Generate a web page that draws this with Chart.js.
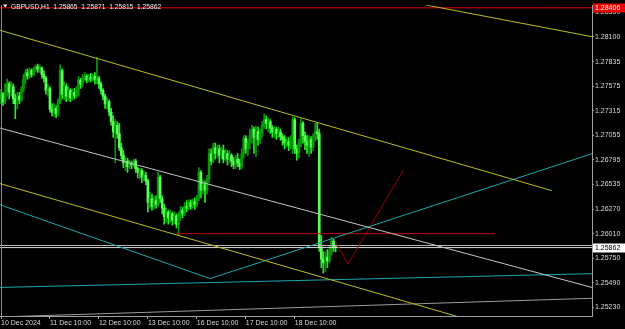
<!DOCTYPE html>
<html lang="en">
<head>
<meta charset="UTF-8">
<title>GBPUSD,H1</title>
<script src="https://cdn.jsdelivr.net/npm/chart.js"></script>
<style>
    html, body { margin: 0; padding: 0; background: #000000; }
    #wrap { width: 625px; height: 329px; }
</style>
</head>
<body>
<div id="wrap"><canvas id="grafik" width="625" height="329"></canvas></div>
<script>
// GBPUSD H1, one entry per hour starting 10 Dec 10:00
const opens = [1.2744,1.2749,1.2741,1.2751,1.2760,1.2751,1.2757,1.2744,1.2739,1.2747,
    1.2743,1.2754,1.2765,1.2772,1.2768,1.2774,1.2770,1.2776,1.2778,1.2775,
    1.2777,1.2770,1.2766,1.2753,1.2755,1.2733,1.2730,1.2734,1.2728,1.2741,
    1.2774,1.2749,1.2757,1.2747,1.2753,1.2745,1.2751,1.2747,1.2753,1.2764,
    1.2760,1.2766,1.2768,1.2764,1.2767,1.2765,1.2768,1.2764,1.2766,1.2760,
    1.2753,1.2747,1.2739,1.2741,1.2730,1.2720,1.2709,1.2716,1.2707,1.2692,
    1.2684,1.2676,1.2678,1.2672,1.2676,1.2674,1.2678,1.2670,1.2666,1.2668,
    1.2661,1.2663,1.2657,1.2634,1.2638,1.2630,1.2636,1.2632,1.2661,1.2638,
    1.2628,1.2619,1.2624,1.2618,1.2622,1.2615,1.2620,1.2611,1.2620,1.2626,
    1.2622,1.2630,1.2628,1.2634,1.2630,1.2635,1.2632,1.2638,1.2666,1.2647,
    1.2653,1.2647,1.2659,1.2686,1.2678,1.2692,1.2686,1.2691,1.2684,1.2689,
    1.2680,1.2686,1.2680,1.2684,1.2678,1.2674,1.2680,1.2676,1.2672,1.2686,
    1.2702,1.2691,1.2697,1.2705,1.2712,1.2703,1.2709,1.2701,1.2707,1.2716,
    1.2722,1.2718,1.2720,1.2713,1.2709,1.2712,1.2707,1.2709,1.2704,1.2701,
    1.2697,1.2699,1.2695,1.2699,1.2722,1.2691,1.2686,1.2697,1.2718,1.2705,
    1.2699,1.2695,1.2701,1.2693,1.2703,1.2709,1.2707,1.2587,1.2574,1.2570,
    1.2576,1.2572,1.2582,1.2593,1.25865];
const highs = [1.2754,1.2751,1.2760,1.2765,1.2762,1.2762,1.2760,1.2749,1.2751,1.2751,
    1.2757,1.2770,1.2775,1.2776,1.2777,1.2776,1.2778,1.2780,1.2781,1.2780,
    1.2778,1.2774,1.2768,1.2760,1.2757,1.2739,1.2739,1.2737,1.2744,1.2780,
    1.2776,1.2762,1.2760,1.2757,1.2755,1.2754,1.2755,1.2757,1.2768,1.2766,
    1.2770,1.2772,1.2770,1.2770,1.2771,1.2770,1.2772,1.2788,1.2768,1.2762,
    1.2755,1.2749,1.2745,1.2743,1.2734,1.2726,1.2722,1.2720,1.2718,1.2697,
    1.2689,1.2682,1.2681,1.2679,1.2678,1.2680,1.2680,1.2672,1.2670,1.2670,
    1.2668,1.2666,1.2659,1.2645,1.2643,1.2641,1.2641,1.2666,1.2663,1.2641,
    1.2632,1.2628,1.2626,1.2626,1.2624,1.2624,1.2622,1.2624,1.2630,1.2629,
    1.2634,1.2636,1.2637,1.2637,1.2638,1.2639,1.2642,1.2671,1.2668,1.2658,
    1.2657,1.2663,1.2691,1.2691,1.2697,1.2697,1.2695,1.2695,1.2693,1.2695,
    1.2691,1.2689,1.2689,1.2686,1.2682,1.2684,1.2686,1.2680,1.2691,1.2705,
    1.2705,1.2701,1.2712,1.2716,1.2714,1.2715,1.2714,1.2712,1.2720,1.2728,
    1.2726,1.2724,1.2722,1.2716,1.2714,1.2714,1.2714,1.2712,1.2707,1.2705,
    1.2703,1.2703,1.2705,1.2725,1.2724,1.2695,1.2701,1.2723,1.2720,1.2709,
    1.2705,1.2705,1.2704,1.2707,1.2718,1.2718,1.2712,1.2599,1.2582,1.2582,
    1.2584,1.2588,1.2597,1.2595,1.25871];
const lows = [1.2739,1.2737,1.2739,1.2747,1.2744,1.2747,1.2739,1.2723,1.2733,1.2739,
    1.2741,1.2751,1.2760,1.2765,1.2766,1.2767,1.2768,1.2773,1.2772,1.2772,
    1.2766,1.2762,1.2749,1.2747,1.2730,1.2726,1.2725,1.2724,1.2726,1.2739,
    1.2744,1.2743,1.2741,1.2742,1.2741,1.2743,1.2744,1.2745,1.2747,1.2755,
    1.2757,1.2763,1.2761,1.2762,1.2762,1.2763,1.2760,1.2760,1.2755,1.2749,
    1.2743,1.2734,1.2733,1.2726,1.2716,1.2703,1.2676,1.2702,1.2689,1.2680,
    1.2671,1.2668,1.2666,1.2670,1.2670,1.2672,1.2666,1.2660,1.2659,1.2655,
    1.2657,1.2653,1.2624,1.2628,1.2626,1.2627,1.2628,1.2630,1.2634,1.2622,
    1.2611,1.2613,1.2611,1.2613,1.2610,1.2611,1.2607,1.2600,1.2615,1.2618,
    1.2620,1.2624,1.2626,1.2627,1.2628,1.2627,1.2630,1.2636,1.2639,1.2643,
    1.2634,1.2643,1.2655,1.2674,1.2676,1.2680,1.2681,1.2676,1.2680,1.2676,
    1.2678,1.2674,1.2676,1.2672,1.2670,1.2670,1.2672,1.2669,1.2670,1.2681,
    1.2686,1.2684,1.2691,1.2697,1.2686,1.2683,1.2695,1.2697,1.2703,1.2713,
    1.2712,1.2709,1.2707,1.2703,1.2703,1.2701,1.2703,1.2700,1.2695,1.2691,
    1.2693,1.2689,1.2691,1.2686,1.2686,1.2679,1.2681,1.2693,1.2697,1.2690,
    1.2686,1.2683,1.2686,1.2689,1.2699,1.2701,1.2582,1.2565,1.2559,1.2561,
    1.2565,1.2570,1.2578,1.2582,1.25815];
const closes = [1.2749,1.2741,1.2751,1.2760,1.2751,1.2757,1.2744,1.2739,1.2747,1.2743,
    1.2754,1.2765,1.2772,1.2768,1.2774,1.2770,1.2776,1.2778,1.2775,1.2777,
    1.2770,1.2766,1.2753,1.2755,1.2733,1.2730,1.2734,1.2728,1.2741,1.2774,
    1.2749,1.2757,1.2747,1.2753,1.2745,1.2751,1.2747,1.2753,1.2764,1.2760,
    1.2766,1.2768,1.2764,1.2767,1.2765,1.2768,1.2764,1.2766,1.2760,1.2753,
    1.2747,1.2739,1.2741,1.2730,1.2720,1.2709,1.2716,1.2707,1.2692,1.2684,
    1.2676,1.2678,1.2672,1.2676,1.2674,1.2678,1.2670,1.2666,1.2668,1.2661,
    1.2663,1.2657,1.2634,1.2638,1.2630,1.2636,1.2632,1.2661,1.2638,1.2628,
    1.2619,1.2624,1.2618,1.2622,1.2615,1.2620,1.2611,1.2620,1.2626,1.2622,
    1.2630,1.2628,1.2634,1.2630,1.2635,1.2632,1.2638,1.2666,1.2647,1.2653,
    1.2647,1.2659,1.2686,1.2678,1.2692,1.2686,1.2691,1.2684,1.2689,1.2680,
    1.2686,1.2680,1.2684,1.2678,1.2674,1.2680,1.2676,1.2672,1.2686,1.2702,
    1.2691,1.2697,1.2705,1.2712,1.2703,1.2709,1.2701,1.2707,1.2716,1.2722,
    1.2718,1.2720,1.2713,1.2709,1.2712,1.2707,1.2709,1.2704,1.2701,1.2697,
    1.2699,1.2695,1.2699,1.2722,1.2691,1.2686,1.2697,1.2718,1.2705,1.2699,
    1.2695,1.2701,1.2693,1.2703,1.2709,1.2707,1.2587,1.2574,1.2570,1.2576,
    1.2572,1.2582,1.2593,1.25865,1.25862];

// time axis (bar index -> label)
const tickIndex = [0, 24, 48, 72, 96, 120, 144];
const tickLabels = ['10 Dec 2024', '11 Dec 10:00', '12 Dec 10:00', '13 Dec 10:00', '16 Dec 10:00', '17 Dec 10:00', '18 Dec 10:00'];
const barMin = -0.5, barMax = 289.7;

// price axis
const priceTicks = [1.25230, 1.25490, 1.25750, 1.26010, 1.26270, 1.26535, 1.26795, 1.27055, 1.27315, 1.27575, 1.27835, 1.28100, 1.28360];
const priceMin = 1.25136, priceMax = 1.28434;

// levels
const askLevel = 1.28406;
const bidLevel = 1.25862;
const greyLevel = 1.25884;

// drawn objects: [bar index, price]
const yellowUpper = [[-0.5, 1.28168], [270, 1.26466]];
const yellowLower = [[-0.5, 1.26541], [230, 1.25091]];
const yellowTop = [[205, 1.28450], [289.7, 1.28100]];
const whiteMid = [[-0.5, 1.27130], [289.7, 1.25439]];
const greyLow = [[-0.5, 1.25126], [289.7, 1.25324]];
const cyanDown = [[-0.5, 1.26316], [102.5, 1.25533]];
const cyanUp = [[102.5, 1.25533], [289.7, 1.26858]];
const cyanLow = [[-0.5, 1.25439], [289.7, 1.25585]];
const redLevel = [[86, 1.2601], [242, 1.2601]];
const redPath = [[164.2, 1.25919], [170.1, 1.25686], [197.5, 1.26694]];

const symbol = 'GBPUSD,H1';

const bullColor = '#0a960a';
const bearColor = '#55ff55';
const bearWick = '#22ee22';
const fontFam = '"Liberation Sans", Arial, sans-serif';

const last = closes.length - 1;
const isBear = closes.map((c, i) => c < opens[i]);

function trendLine(points, color) {
    return {
        type: 'line',
        data: points.map(p => ({ x: p[0], y: p[1] })),
        borderColor: color,
        borderWidth: 1,
        pointRadius: 0,
        fill: false,
        tension: 0,
        order: 0
    };
}

function levelLine(price, color) {
    return trendLine([[barMin, price], [barMax, price]], color);
}

function priceTag(c, x, y, text, bg, fg) {
    c.fillStyle = bg;
    c.fillRect(x + 1, Math.round(y) - 4.5, 33, 9);
    c.fillStyle = fg;
    c.font = '7px ' + fontFam;
    c.textBaseline = 'middle';
    c.textAlign = 'left';
    c.fillText(text, x + 3, y + 0.5);
}

const mt4Overlay = {
    id: 'mt4Overlay',
    beforeDraw(chart) {
        const c = chart.ctx;
        c.save();
        c.fillStyle = '#000000';
        c.fillRect(0, 0, chart.width, chart.height);
        c.restore();
    },
    afterDraw(chart) {
        const c = chart.ctx;
        const a = chart.chartArea;
        const ys = chart.scales.y;
        c.save();
        // left frame
        c.strokeStyle = '#8a8a8a';
        c.lineWidth = 1;
        c.beginPath();
        c.moveTo(a.left + 1.5, a.top);
        c.lineTo(a.left + 1.5, a.bottom);
        c.stroke();

        // header
        c.fillStyle = '#f0f0f0';
        c.beginPath();
        c.moveTo(3, 4.5);
        c.lineTo(7.5, 4.5);
        c.lineTo(5.25, 7.5);
        c.closePath();
        c.fill();
        c.font = '6.7px ' + fontFam;
        c.textBaseline = 'middle';
        c.textAlign = 'left';
        const head = symbol + '  ' + [opens[last], highs[last], lows[last], closes[last]].map(v => v.toFixed(5)).join('  ');
        c.fillText(head, 11, 7);

        // price tags on the axis
        priceTag(c, a.right, ys.getPixelForValue(askLevel), askLevel.toFixed(5), '#ee0000', '#ffffff');
        priceTag(c, a.right, ys.getPixelForValue(bidLevel), bidLevel.toFixed(5), '#ffffff', '#000000');
        c.restore();
    }
};

const ctx = document.getElementById('grafik');

new Chart(ctx, {
    type: 'bar',
    data: {
        datasets: [
            trendLine(yellowUpper, '#bcbc22'),
            trendLine(yellowLower, '#bcbc22'),
            trendLine(yellowTop, '#bcbc22'),
            trendLine(whiteMid, '#c4c4c4'),
            trendLine(greyLow, '#9a9a9a'),
            trendLine(cyanDown, '#1aa8a8'),
            trendLine(cyanUp, '#1aa8a8'),
            trendLine(cyanLow, '#1aa8a8'),
            trendLine(redLevel, '#c80000'),
            trendLine(redPath, '#9a0000'),
            levelLine(askLevel, '#e00000'),
            levelLine(greyLevel, '#b8b8b8'),
            levelLine(bidLevel, '#d8d8d8'),
            {
                label: 'wick',
                data: closes.map((v, i) => ({ x: i, y: [lows[i], highs[i]] })),
                backgroundColor: isBear.map(b => b ? bearWick : bullColor),
                barThickness: 1,
                grouped: false,
                order: 3
            },
            {
                label: 'body',
                data: closes.map((v, i) => ({ x: i, y: [opens[i], v] })),
                backgroundColor: isBear.map(b => b ? bearColor : bullColor),
                barThickness: 2,
                minBarLength: 1,
                grouped: false,
                order: 2
            }
        ]
    },
    options: {
        responsive: false,
        devicePixelRatio: 1,
        animation: false,
        events: [],
        layout: { padding: 0, autoPadding: false },
        plugins: {
            legend: { display: false },
            tooltip: { enabled: false }
        },
        scales: {
            x: {
                type: 'linear',
                min: barMin,
                max: barMax,
                offset: false,
                afterBuildTicks: s => { s.ticks = tickIndex.map(v => ({ value: v })); },
                afterFit: s => { s.height = 13; },
                ticks: {
                    align: 'start',
                    autoSkip: false,
                    maxRotation: 0,
                    padding: 0,
                    color: '#d8d8d8',
                    font: { family: fontFam, size: 7 },
                    callback: v => tickLabels[tickIndex.indexOf(v)]
                },
                grid: { drawOnChartArea: false, tickLength: 3, color: '#a0a0a0', offset: false },
                border: { color: '#a0a0a0' }
            },
            y: {
                position: 'right',
                min: priceMin,
                max: priceMax,
                beginAtZero: false,
                afterBuildTicks: s => { s.ticks = priceTicks.map(v => ({ value: v })); },
                afterFit: s => { s.width = 33; },
                ticks: {
                    autoSkip: false,
                    padding: 1,
                    color: '#d8d8d8',
                    font: { family: fontFam, size: 7 },
                    callback: v => v.toFixed(5)
                },
                grid: { drawOnChartArea: false, tickLength: 2, color: '#a0a0a0' },
                border: { color: '#a0a0a0' }
            }
        }
    },
    plugins: [mt4Overlay]
});
</script>
</body>
</html>
